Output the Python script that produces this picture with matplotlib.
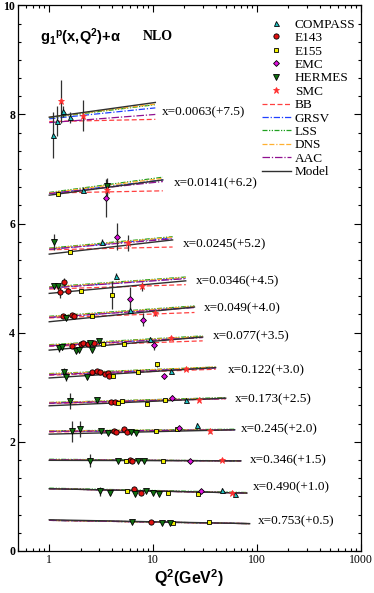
import matplotlib
matplotlib.use('Agg')
import matplotlib.pyplot as plt
from matplotlib.lines import Line2D
from matplotlib.ticker import MultipleLocator, LogLocator, NullFormatter
import numpy as np

# x bins, offsets and label placement
bin_labels = ['x=0.0063(+7.5)', 'x=0.0141(+6.2)', 'x=0.0245(+5.2)', 'x=0.0346(+4.5)',
              'x=0.049(+4.0)', 'x=0.077(+3.5)', 'x=0.122(+3.0)', 'x=0.173(+2.5)',
              'x=0.245(+2.0)', 'x=0.346(+1.5)', 'x=0.490(+1.0)', 'x=0.753(+0.5)']
label_q2 = [12.1, 15.8, 19.3, 25.7, 30.6, 37.6, 52, 61.8, 70, 85, 91, 101]
label_y = [8.04, 6.74, 5.62, 4.95, 4.45, 3.93, 3.31, 2.77, 2.23, 1.67, 1.17, 0.54]

# theory curves: value at Q2=1 and at Q2=q2_max for every bin
q2_max = [10.5, 12.4, 15.4, 20.6, 25, 30, 40, 50, 61, 70, 80, 85]
model_start = [7.95, 6.52, 5.44, 4.72, 4.20, 3.68, 3.17, 2.66, 2.14, 1.66, 1.14, 0.57]
model_end = [8.22, 6.80, 5.70, 4.95, 4.47, 3.92, 3.36, 2.80, 2.22, 1.65, 1.06, 0.50]
bb_start = [7.87, 6.56, 5.52, 4.80, 4.27, 3.75, 3.22, 2.70, 2.18, 1.67, 1.14, 0.56]
bb_end = [7.91, 6.60, 5.57, 4.88, 4.37, 3.85, 3.33, 2.79, 2.22, 1.65, 1.06, 0.50]
grsv_start = [7.92, 6.55, 5.53, 4.82, 4.28, 3.76, 3.23, 2.71, 2.19, 1.67, 1.14, 0.56]
grsv_end = [8.12, 6.80, 5.74, 5.00, 4.47, 3.92, 3.36, 2.80, 2.22, 1.65, 1.06, 0.50]
lss_start = [7.94, 6.57, 5.55, 4.84, 4.30, 3.78, 3.25, 2.72, 2.20, 1.68, 1.15, 0.56]
lss_end = [8.18, 6.85, 5.76, 5.02, 4.49, 3.94, 3.37, 2.81, 2.23, 1.65, 1.07, 0.50]
dns_start = [7.95, 6.56, 5.54, 4.83, 4.29, 3.77, 3.24, 2.72, 2.20, 1.67, 1.14, 0.56]
dns_end = [8.19, 6.83, 5.75, 5.01, 4.48, 3.93, 3.37, 2.80, 2.22, 1.65, 1.06, 0.50]
aac_start = [7.85, 6.55, 5.53, 4.82, 4.28, 3.76, 3.23, 2.71, 2.19, 1.67, 1.14, 0.56]
aac_end = [8.00, 6.77, 5.72, 4.99, 4.46, 3.91, 3.35, 2.79, 2.22, 1.65, 1.06, 0.50]

# data points (already shifted by the bin offset)
compass_q2 = [1.09, 1.2, 1.37, 1.58, 2.1, 3.2, 4.38, 6.0, 9.3, 15, 20.6, 26.6, 46.5, 62]
compass_g1 = [7.63, 7.88, 8.06, 7.95, 6.62, 5.67, 5.04, 4.42, 3.88, 3.30, 2.77, 2.31, 1.12, 1.04]
compass_err = [0.42, 0.27, 0.1, 0.1, 0.05, 0.05, 0.05, 0.05, 0.04, 0.04, 0.04, 0.04, 0.03, 0.03]

e143_q2 = [1.27, 1.39, 1.52, 1.35, 1.64, 1.73, 1.64, 2.0, 2.1, 2.37, 2.7,
           2.56, 2.86, 3.07, 3.43, 3.67, 3.78, 3.97, 4.29, 4.18, 4.38, 5.23, 5.55,
           5.97, 6.3, 6.5, 7.7, 9.5]
e143_g1 = [4.74, 4.93, 4.76, 4.31, 4.32, 4.31, 3.76, 3.79, 3.81, 3.80, 3.81,
           3.27, 3.30, 3.27, 3.24, 3.26, 3.20, 2.73, 2.73, 2.20, 2.18, 2.23, 2.18,
           1.67, 1.64, 1.14, 1.06, 0.53]
e143_err = [0.1, 0.08, 0.06, 0.04, 0.03, 0.03, 0.03, 0.03, 0.03, 0.03, 0.03,
            0.02, 0.02, 0.02, 0.02, 0.02, 0.02, 0.02, 0.02, 0.02, 0.02, 0.02, 0.02,
            0.02, 0.02, 0.02, 0.02, 0.02]

e155_q2 = [1.22, 1.58, 2.02, 4.0, 2.6, 3.3, 5.3, 4.07, 7.2, 10.8, 4.6, 4.97, 8.8, 13.1,
           10.6, 17, 5.5, 12.5, 5.6, 13.9, 26.8, 15.6, 34.5]
e155_g1 = [6.55, 5.48, 4.76, 4.69, 4.31, 3.79, 3.80, 3.20, 3.27, 3.42, 2.72, 2.75, 2.70, 2.76,
           2.19, 2.23, 1.65, 1.65, 1.09, 1.07, 1.04, 0.52, 0.53]
e155_err = [0.04, 0.04, 0.04, 0.25, 0.03, 0.03, 0.03, 0.02, 0.02, 0.05, 0.02, 0.02, 0.02, 0.02,
            0.02, 0.02, 0.02, 0.02, 0.02, 0.02, 0.02, 0.02, 0.02]

emc_q2 = [3.5, 4.45, 5.97, 8.0, 10.1, 12.8, 15.2, 17.8, 22.5, 29.2]
emc_g1 = [6.47, 5.76, 4.61, 4.24, 3.77, 3.20, 2.81, 2.25, 1.65, 1.09]
emc_err = [0.35, 0.25, 0.22, 0.12, 0.08, 0.05, 0.04, 0.03, 0.02, 0.02]

hermes_q2 = [3.56, 1.12, 1.1, 1.22, 1.45, 1.25, 1.34, 1.83, 1.92, 2.45, 2.6, 3.0,
             1.39, 1.45, 2.29, 1.58, 2.9, 1.64, 1.97, 3.14, 3.7, 6.1, 6.9,
             2.46, 4.6, 7.2, 8.2, 3.07, 3.83, 6.7, 8.5, 10, 11.3, 6.3, 12.2, 14.5]
hermes_g1 = [6.68, 5.66, 4.85, 4.85, 4.27, 3.72, 3.73, 3.67, 3.69, 3.81, 3.68, 3.85,
             3.28, 3.19, 3.19, 2.75, 2.77, 2.19, 2.24, 2.19, 2.17, 2.18, 2.17,
             1.65, 1.65, 1.65, 1.65, 1.09, 1.06, 1.04, 1.10, 1.06, 1.04, 0.53, 0.52, 0.52]
hermes_err = [0.15, 0.15, 0.05, 0.05, 0.04, 0.08, 0.05, 0.04, 0.04, 0.04, 0.04, 0.04,
              0.08, 0.08, 0.03, 0.15, 0.03, 0.2, 0.15, 0.03, 0.03, 0.02, 0.02,
              0.12, 0.02, 0.02, 0.02, 0.08, 0.03, 0.02, 0.02, 0.02, 0.02, 0.02, 0.02, 0.02]

smc_q2 = [1.3, 2.1, 3.56, 5.7, 7.8, 10.4, 14.7, 20.9, 27.7, 35, 45.6, 58]
smc_g1 = [8.24, 7.98, 6.61, 5.64, 4.85, 4.36, 3.91, 3.34, 2.77, 2.19, 1.67, 1.07]
smc_err = [0.4, 0.28, 0.1, 0.15, 0.08, 0.05, 0.03, 0.02, 0.02, 0.02, 0.02, 0.02]

plt.rcParams['font.family'] = 'Liberation Serif'
plt.rcParams['mathtext.fontset'] = 'custom'
plt.rcParams['mathtext.rm'] = 'Liberation Sans:bold'
plt.rcParams['mathtext.it'] = 'Liberation Sans:bold'
plt.rcParams['mathtext.bf'] = 'Liberation Sans:bold'

fig = plt.figure(figsize=(3.74, 5.93), dpi=100)
ax = fig.add_axes([0.048, 0.071, 0.917, 0.920])

# theory curves
curves = [
    (bb_start, bb_end, '#ff4040', (0, (4, 2)), 'BB'),
    (grsv_start, grsv_end, '#2040ff', (0, (5, 1.5, 1, 1.5)), 'GRSV'),
    (lss_start, lss_end, '#20a020', (0, (4, 1.2, 1, 1.2, 1, 1.2)), 'LSS'),
    (dns_start, dns_end, '#ffb030', (0, (4, 1.5, 4, 1.5, 1, 1.5)), 'DNS'),
    (aac_start, aac_end, '#901090', (0, (6, 1.5, 1, 1.5)), 'AAC'),
]
for i in range(len(q2_max)):
    for st, en, col, ls, name in curves:
        ax.plot([1, q2_max[i]], [st[i], en[i]], color=col, ls=ls, lw=0.9, zorder=2)
    ax.plot([1, q2_max[i]], [model_start[i], model_end[i]], color='#303030', lw=1.0, zorder=3)
    ax.text(label_q2[i], label_y[i], bin_labels[i], fontsize=9.5, va='center', ha='left')

# data points
experiments = [
    (compass_q2, compass_g1, compass_err, '^', '#20c0c0', 'COMPASS', 3.6),
    (e143_q2, e143_g1, e143_err, 'o', '#e01010', 'E143', 3.8),
    (e155_q2, e155_g1, e155_err, 's', '#f0f000', 'E155', 3.4),
    (emc_q2, emc_g1, emc_err, 'D', '#e010e0', 'EMC', 3.0),
    (hermes_q2, hermes_g1, hermes_err, 'v', '#107010', 'HERMES', 3.8),
    (smc_q2, smc_g1, smc_err, '*', '#ff3030', 'SMC', 4.8),
]
handles = []
for q, g, e, mk, col, name, ms in experiments:
    edge = col if mk == '*' else 'black'
    ax.errorbar(q, g, yerr=e, fmt=mk, color=col, mfc=col, mec=edge, mew=0.6, ms=ms,
                ecolor='#303030', elinewidth=0.9, capsize=0, zorder=4)
    handles.append(Line2D([], [], ls='none', marker=mk, mfc=col, mec=edge, mew=0.6, ms=ms))

for st, en, col, ls, name in curves:
    handles.append(Line2D([], [], color=col, ls=ls, lw=0.9))
handles.append(Line2D([], [], color='#303030', lw=1.0))
names = ['COMPASS', 'E143', 'E155', 'EMC', 'HERMES', 'SMC', 'BB', 'GRSV', 'LSS', 'DNS', 'AAC', 'Model']
ax.legend(handles, names, loc='upper left', bbox_to_anchor=(0.711, 0.976), frameon=False,
          fontsize=9.5, borderpad=0, borderaxespad=0, handlelength=2.2, handletextpad=0.3,
          labelspacing=0.09)

ax.text(0.064, 0.942, r'g$_1$$^{p}$(x,Q$^2$)+$\alpha$', transform=ax.transAxes,
        fontsize=10.5, family='Liberation Sans', weight='bold', va='center')
ax.text(0.364, 0.942, 'NLO', transform=ax.transAxes, fontsize=10, weight='bold', va='center')

ax.set_xscale('log')
ax.set_xlim(0.5, 1000)
ax.set_ylim(0, 10)
ax.set_xticks([1, 10, 100, 1000])
ax.set_xticklabels(['1', '10', '100', '1000'], fontsize=8.5)
ax.xaxis.set_minor_locator(LogLocator(base=10, subs=np.arange(2, 10)))
ax.xaxis.set_minor_formatter(NullFormatter())
ax.yaxis.set_major_locator(MultipleLocator(2))
ax.yaxis.set_minor_locator(MultipleLocator(1 / 3))
ax.set_yticks([0, 2, 4, 6, 8, 10])
ax.set_yticklabels(['0', '2', '4', '6', '8', '10'], fontsize=8.5, weight='bold')
ax.tick_params(which='both', direction='in', top=True, right=True, width=0.8)
ax.tick_params(which='major', length=5, pad=2)
ax.tick_params(which='minor', length=2.5)
for s in ax.spines.values():
    s.set_linewidth(0.9)

ax.set_xlabel(r'Q$^2$(GeV$^2$)', fontsize=11.5, family='Liberation Sans', weight='bold', labelpad=1)

fig.savefig('out.png', dpi=100)
